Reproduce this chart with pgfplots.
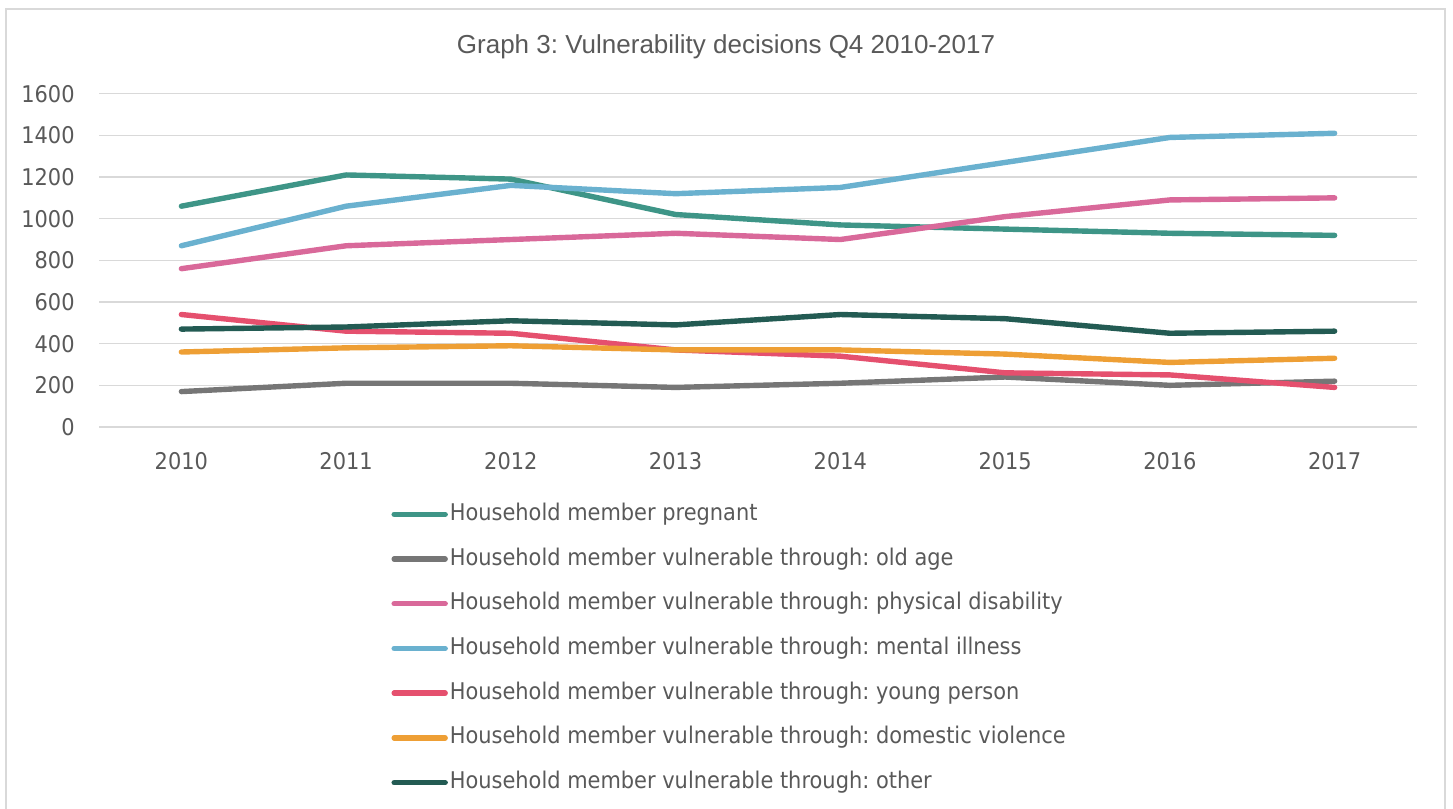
\documentclass[border=0pt]{standalone}
\usepackage{pgfplots}
\pgfplotsset{compat=1.18}
\usepackage{fontspec}
\setmainfont{DejaVu Sans}[FakeStretch=0.91]
\newfontfamily\titlefont{Liberation Sans}
\definecolor{txt}{HTML}{595959}
\definecolor{gridc}{HTML}{D9D9D9}
\definecolor{cPreg}{HTML}{3E9587}
\definecolor{cOld}{HTML}{767676}
\definecolor{cPhys}{HTML}{D9699A}
\definecolor{cMent}{HTML}{6AB1CF}
\definecolor{cYoung}{HTML}{E5506E}
\definecolor{cDom}{HTML}{EE9F35}
\definecolor{cOther}{HTML}{235B53}
\frenchspacing
\begin{document}
\frenchspacing
\begin{tikzpicture}[x=0.5pt,y=0.5pt]
\path[use as bounding box] (0,0) rectangle (1453,809);
\draw[gridc, line width=0.75pt] (6,-5) -- (6,800) -- (1445,800) -- (1445,-5);
\node[anchor=base, font=\titlefont\fontsize{13}{15}\selectfont, text=txt, inner sep=0pt] at (726,755) {Graph 3: Vulnerability decisions Q4 2010-2017};
\begin{axis}[
  at={(49.5pt,191pt)}, anchor=south west,
  scale only axis, width=659pt, height=166.65pt,
  xmin=2009.5, xmax=2017.5, ymin=0, ymax=1600,
  xtick={2010,2011,2012,2013,2014,2015,2016,2017},
  ytick={0,200,400,600,800,1000,1200,1400,1600},
  /pgf/number format/1000 sep={},
  /pgf/number format/assume math mode=true,
  axis line style={draw=none},
  tick style={draw=none},
  ymajorgrids,
  major grid style={draw=gridc, line width=0.75pt},
  tick label style={font=\fontsize{11.5}{13}\selectfont, text=txt},
  yticklabel style={anchor=east, inner sep=0pt, xshift=-12pt},
  xticklabel style={anchor=north, inner sep=0pt, yshift=-12.5pt},
  every axis plot/.append style={line width=2.7pt, line cap=round, line join=round, mark=none},
  legend cell align=left,
  legend image code/.code={\draw[line width=2.7pt, line cap=round] (0pt,0pt) -- (25.5pt,0pt);},
  legend style={at={(0.2216,-0.225)}, anchor=north west, draw=none, fill=none,
    inner sep=0pt, row sep=10.35pt, column sep=1pt,
    font=\fontsize{11.5}{13}\selectfont, text=txt,
    nodes={inner sep=0pt, text height=9pt, text depth=3pt}},
  clip=false
]
\addplot[cPreg] coordinates {(2010,1060) (2011,1210) (2012,1190) (2013,1020) (2014,970) (2015,950) (2016,930) (2017,920)};
\addlegendentry{Household member pregnant}
\addplot[cOld] coordinates {(2010,170) (2011,210) (2012,210) (2013,190) (2014,210) (2015,240) (2016,200) (2017,220)};
\addlegendentry{Household member vulnerable through: old age}
\addplot[cPhys] coordinates {(2010,760) (2011,870) (2012,900) (2013,930) (2014,900) (2015,1010) (2016,1090) (2017,1100)};
\addlegendentry{Household member vulnerable through: physical disability}
\addplot[cMent] coordinates {(2010,870) (2011,1060) (2012,1160) (2013,1120) (2014,1150) (2015,1270) (2016,1390) (2017,1410)};
\addlegendentry{Household member vulnerable through: mental illness}
\addplot[cYoung] coordinates {(2010,540) (2011,460) (2012,450) (2013,370) (2014,340) (2015,260) (2016,250) (2017,190)};
\addlegendentry{Household member vulnerable through: young person}
\addplot[cDom] coordinates {(2010,360) (2011,380) (2012,390) (2013,370) (2014,370) (2015,350) (2016,310) (2017,330)};
\addlegendentry{Household member vulnerable through: domestic violence}
\addplot[cOther] coordinates {(2010,470) (2011,480) (2012,510) (2013,490) (2014,540) (2015,520) (2016,450) (2017,460)};
\addlegendentry{Household member vulnerable through: other}
\end{axis}
\end{tikzpicture}
\end{document}
